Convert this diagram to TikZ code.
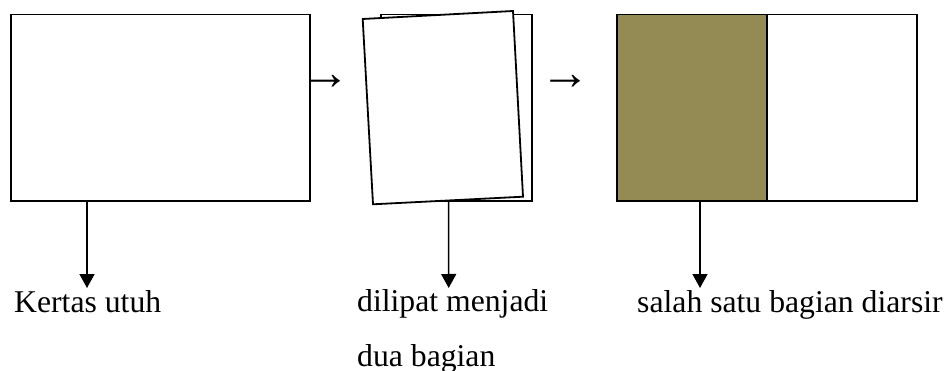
\documentclass[tikz,border=0pt]{standalone}
\usepackage{fontspec}
\setmainfont{Liberation Serif}
\usetikzlibrary{arrows.meta,calc}

\definecolor{shade}{HTML}{948A54}

\tikzset{
  sheet/.style={draw=black, line width=1.8pt, fill=white, inner sep=0pt},
  downarrow/.style={line width=1.5pt, -{Triangle[width=15pt,length=14pt]}},
  caption/.style={font=\fontsize{31.7}{38}\selectfont, inner sep=0pt, anchor=base west},
  stepsign/.style={font=\fontsize{50}{60}\selectfont, inner sep=0pt, anchor=center}
}

\begin{document}
\begin{tikzpicture}[x=1pt, y=-1pt]
  \useasboundingbox (0,0) rectangle (952,371);

  % whole sheet
  \node[sheet, minimum width=299pt, minimum height=186.5pt] (whole) at (160.5,107.8) {};
  \node[caption] (lblA) at (14,312) {Kertas utuh};
  \coordinate (tipA) at (87,288);
  \draw[downarrow] (whole.south -| tipA) -- (tipA);

  % step sign
  \node[stepsign] (stepA) at (325.5,82) {→};

  % folded sheet: back layer and tilted front layer
  \node[sheet, minimum width=151pt, minimum height=186.5pt] (back) at (456.5,107.8) {};
  \coordinate (ftl) at (362.7,19);
  \coordinate (ftr) at (513,11);
  \coordinate (fbr) at (523,196.7);
  \coordinate (fbl) at (373,204.3);
  \draw[sheet, line join=miter] (ftl) -- (ftr) -- (fbr) -- (fbl) -- cycle;
  \node[caption] (lblB) at (357,311) {dilipat menjadi};
  \node[caption] (lblC) at (357,366) {dua bagian};
  \coordinate (tipB) at (448.7,288);
  \draw[downarrow] ($(fbl)!0.504!(fbr)$) -- (tipB);

  % step sign
  \node[stepsign] (stepB) at (565,82) {→};

  % sheet with one half shaded
  \node[sheet, fill=shade, minimum width=150pt, minimum height=186.5pt] (half) at (692,107.8) {};
  \node[sheet, minimum width=150pt, minimum height=186.5pt] (other) at (842,107.8) {};
  \node[caption] (lblD) at (637,312) {salah satu bagian diarsir};
  \coordinate (tipC) at (700,288);
  \draw[downarrow] (half.south -| tipC) -- (tipC);
\end{tikzpicture}
\end{document}
